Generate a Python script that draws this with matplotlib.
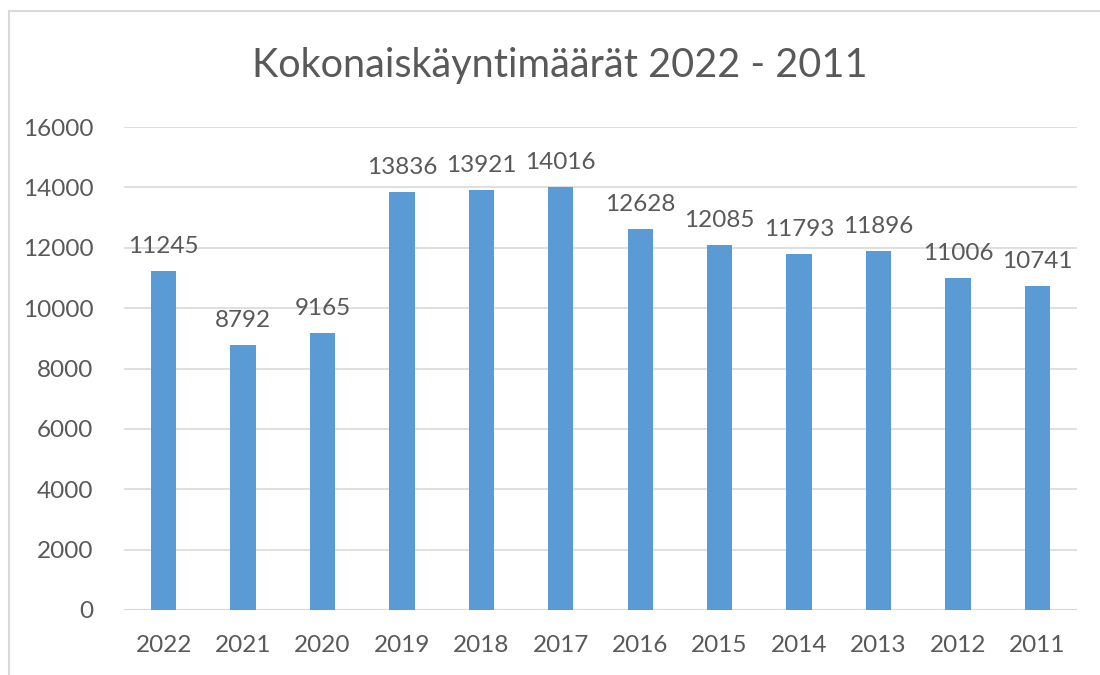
import matplotlib
matplotlib.use("Agg")
import matplotlib.pyplot as plt
from matplotlib.lines import Line2D

years = ["2022", "2021", "2020", "2019", "2018", "2017", "2016", "2015", "2014", "2013", "2012", "2011"]
visits = [11245, 8792, 9165, 13836, 13921, 14016, 12628, 12085, 11793, 11896, 11006, 10741]
yticks = [0, 2000, 4000, 6000, 8000, 10000, 12000, 14000, 16000]
title = "Kokonaiskäyntimäärät 2022 - 2011"

plt.rcParams['font.family'] = ['Lato', 'DejaVu Sans']
txt = "#595959"
bar_c = "#5B9BD5"
grid_c = "#D9D9D9"

fig = plt.figure(figsize=(11, 6.75), dpi=100)
ax = fig.add_axes([124/1100, 1 - 610/675, (1077-124)/1100, (610-127)/675])

x = list(range(len(years)))
ax.bar(x, visits, width=0.32, color=bar_c, zorder=3)
for xi, v in zip(x, visits):
    ax.annotate(str(v), (xi, v), xytext=(0, 10), textcoords="offset points",
                ha="center", va="bottom", fontsize=17.5, color=txt)

ax.set_xlim(-0.5, len(years) - 0.5)
ax.set_ylim(0, 16000)
ax.set_yticks(yticks)
ax.set_yticklabels([str(t) for t in yticks])
ax.set_xticks(x)
ax.set_xticklabels(years)
ax.tick_params(axis='both', length=0, labelsize=17.5, colors=txt)
ax.tick_params(axis='y', pad=22)
ax.tick_params(axis='x', pad=18)
ax.grid(axis='y', color=grid_c, linewidth=1.2, zorder=0)
for s in ax.spines.values():
    s.set_visible(False)
ax.axhline(0, color=grid_c, linewidth=1.5, zorder=2)

fig.text(560/1100, 1 - 66/675, title, ha="center", va="center", fontsize=28.5, color=txt)

# chart area border (left and top visible)
fig.add_artist(Line2D([9/1100, 9/1100], [0, 1 - 11/675], transform=fig.transFigure, color=grid_c, linewidth=1.5))
fig.add_artist(Line2D([9/1100, 1], [1 - 11/675, 1 - 11/675], transform=fig.transFigure, color=grid_c, linewidth=1.5))

fig.savefig("out.png", dpi=100)
